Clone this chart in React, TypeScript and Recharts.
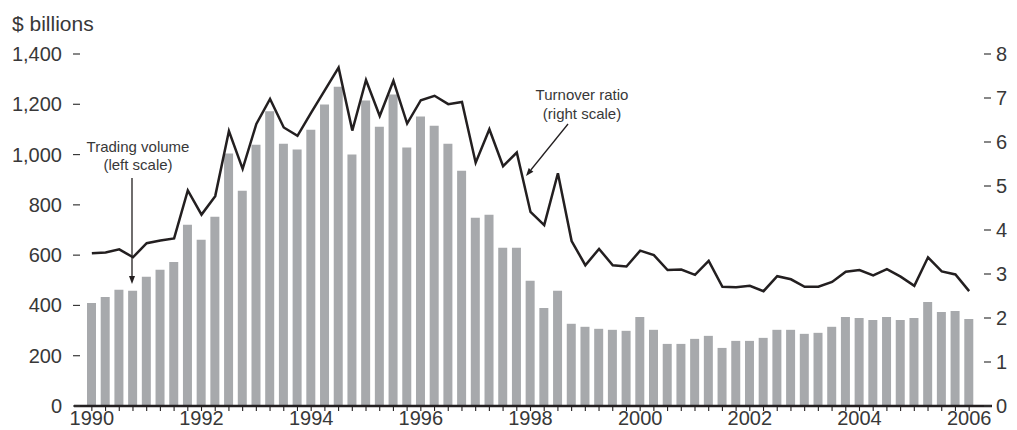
import React from 'react';
import { ComposedChart, Bar, Line, XAxis, YAxis } from 'recharts';

// quarterly, 1990Q1 .. 2006Q1
const years = [1990, 1991, 1992, 1993, 1994, 1995, 1996, 1997, 1998, 1999, 2000, 2001, 2002, 2003, 2004, 2005, 2006];
const quarters = years.flatMap((y) => (y === 2006 ? [`${y}Q1`] : [`${y}Q1`, `${y}Q2`, `${y}Q3`, `${y}Q4`]));

// trading volume, $ billions (left scale)
const volume = [
  410, 434, 462, 458,
  514, 542, 573, 721,
  661, 753, 1004, 856,
  1039, 1172, 1043, 1020,
  1099, 1199, 1270, 1000,
  1215, 1111, 1239, 1028,
  1151, 1115, 1043, 936,
  749, 761, 629, 629,
  498, 390, 458, 327,
  315, 307, 303, 299,
  354, 303, 247, 247,
  267, 279, 231, 259,
  259, 271, 303, 303,
  287, 291, 315, 354,
  350, 342, 354, 342,
  350, 414, 374, 378,
  346,
];

// turnover ratio (right scale)
const turnover = [
  3.47, 3.49, 3.56, 3.38,
  3.70, 3.76, 3.81, 4.90,
  4.35, 4.77, 6.25, 5.39,
  6.41, 6.98, 6.33, 6.14,
  6.67, 7.18, 7.69, 6.26,
  7.41, 6.59, 7.39, 6.42,
  6.95, 7.05, 6.86, 6.91,
  5.53, 6.29, 5.45, 5.76,
  4.41, 4.11, 5.29, 3.75,
  3.20, 3.57, 3.20, 3.17,
  3.53, 3.43, 3.09, 3.10,
  2.98, 3.30, 2.71, 2.70,
  2.73, 2.61, 2.95, 2.88,
  2.71, 2.71, 2.82, 3.05,
  3.09, 2.97, 3.11, 2.94,
  2.73, 3.38, 3.06, 2.99,
  2.61,
];

const leftTicks = [0, 200, 400, 600, 800, 1000, 1200, 1400];
const rightTicks = [0, 1, 2, 3, 4, 5, 6, 7, 8];

const data = quarters.map((q, i) => ({ q, volume: volume[i], turnover: turnover[i] }));

const FONT = '"Liberation Sans", Arial, Helvetica, sans-serif';
const INK = '#231f20';
const TEXT = '#383838';

const yearLabel = (q: string) => {
  const y = Number(q.slice(0, 4));
  return q.endsWith('Q1') && y % 2 === 0 ? String(y) : '';
};

const LeftTick = (props: any) => {
  const { x, y, payload } = props;
  return (
    <g>
      <line x1={x - 1} x2={x + 6} y1={y} y2={y} stroke={TEXT} strokeWidth={1.2} />
      <text x={x - 12} y={y} dy="0.35em" textAnchor="end" fontSize={20} fill={TEXT} fontFamily={FONT}>
        {Number(payload.value).toLocaleString('en-US')}
      </text>
    </g>
  );
};

const RightTick = (props: any) => {
  const { x, y, payload } = props;
  return (
    <g>
      <line x1={x - 8} x2={x - 1} y1={y} y2={y} stroke={TEXT} strokeWidth={1.2} />
      <text x={x + 4} y={y} dy="0.35em" textAnchor="start" fontSize={20} fill={TEXT} fontFamily={FONT}>
        {payload.value}
      </text>
    </g>
  );
};

const Arrow = ({ x1, y1, x2, y2 }: { x1: number; y1: number; x2: number; y2: number }) => {
  const len = Math.hypot(x2 - x1, y2 - y1);
  const ux = (x2 - x1) / len;
  const uy = (y2 - y1) / len;
  const bx = x2 - ux * 8;
  const by = y2 - uy * 8;
  const pts = `${x2},${y2} ${bx + uy * 3},${by - ux * 3} ${bx - uy * 3},${by + ux * 3}`;
  return (
    <g>
      <line x1={x1} y1={y1} x2={bx} y2={by} stroke={INK} strokeWidth={1.3} />
      <polygon points={pts} fill={INK} />
    </g>
  );
};

export default function App() {
  return (
    <div style={{ position: 'absolute', left: 0, top: 0, width: 1017, height: 430, background: '#fff' }}>
      <ComposedChart width={1017} height={430} data={data} margin={{ top: 54, right: 0, bottom: 0, left: 0 }}>
        <XAxis
          dataKey="q"
          interval={0}
          height={24}
          padding={{ left: 11, right: 16 }}
          axisLine={{ stroke: INK, strokeWidth: 2.6 }}
          tickLine={{ stroke: INK, strokeWidth: 1.1 }}
          tickSize={5}
          tickMargin={0}
          tickFormatter={yearLabel}
          tick={{ fontSize: 20, fill: TEXT, fontFamily: FONT }}
        />
        <YAxis
          yAxisId="left"
          orientation="left"
          width={74}
          domain={[0, 1400]}
          ticks={leftTicks}
          axisLine={false}
          tickLine={false}
          tickSize={0}
          tickMargin={0}
          tick={<LeftTick />}
        />
        <YAxis
          yAxisId="right"
          orientation="right"
          width={25}
          domain={[0, 8]}
          ticks={rightTicks}
          axisLine={false}
          tickLine={false}
          tickSize={0}
          tickMargin={0}
          tick={<RightTick />}
        />
        <Bar yAxisId="left" dataKey="volume" fill="#a7a9ac" barSize={9} isAnimationActive={false} />
        <Line
          yAxisId="right"
          type="linear"
          dataKey="turnover"
          stroke={INK}
          strokeWidth={2.5}
          strokeLinejoin="miter"
          dot={false}
          activeDot={false}
          isAnimationActive={false}
        />
      </ComposedChart>
      <svg
        width={1017}
        height={430}
        style={{ position: 'absolute', left: 0, top: 0, pointerEvents: 'none' }}
        fontFamily={FONT}
      >
        <text x={12} y={31} fontSize={21} fill={TEXT}>$ billions</text>
        <text x={138} y={152} fontSize={15} fill={TEXT} textAnchor="middle">Trading volume</text>
        <text x={138} y={170} fontSize={15} fill={TEXT} textAnchor="middle">(left scale)</text>
        <Arrow x1={132} y1={178} x2={132} y2={284} />
        <text x={582} y={100} fontSize={15} fill={TEXT} textAnchor="middle">Turnover ratio</text>
        <text x={582} y={119} fontSize={15} fill={TEXT} textAnchor="middle">(right scale)</text>
        <Arrow x1={568} y1={124} x2={526} y2={176} />
      </svg>
    </div>
  );
}
